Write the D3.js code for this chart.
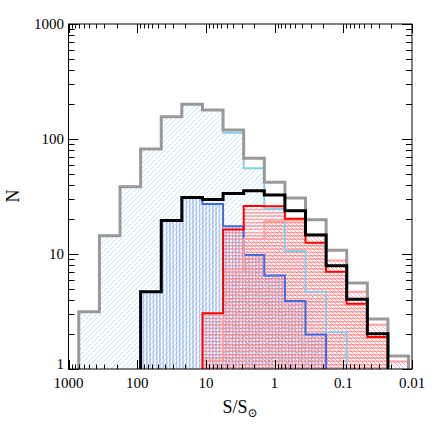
<!DOCTYPE html>
<html><head><meta charset="utf-8">
<script src="https://cdn.jsdelivr.net/npm/d3@7"></script>
<style>body{margin:0;background:#fff}svg{display:block}</style>
</head><body>
<svg id="c" width="436" height="436"></svg>
<script>
// Bin edges in S/S_sun (log-spaced, 0.3 dex)
const binEdges = [707.9, 354.8, 177.8, 89.13, 44.67, 22.39, 11.22, 5.623, 2.818, 1.413, 0.7079, 0.3548, 0.1778, 0.08913, 0.04467, 0.02239, 0.01122];
// Counts per bin (0 = empty)
const totalAll   = [3.15, 14.4, 38.5, 82, 156, 201, 179, 120, 68, 42, 30.7, 19.9, 10.8, 5.6, 2.72, 1.3];
const lightBlue  = [3.15, 14.4, 38.5, 82, 156, 201, 179, 113.5, 55.6, 24.7, 10.6, 4.7, 2.1, 0, 0, 0];
const blueSet    = [0, 0, 0, 4.7, 19.6, 31, 27.2, 17.4, 9.8, 6.5, 3.9, 2.0, 0, 0, 0, 0];
const blackSet   = [0, 0, 0, 4.7, 19.6, 31, 29.8, 33.5, 35.5, 32.6, 23.8, 14.6, 7.9, 4.05, 2.03, 0];
const redSet     = [0, 0, 0, 0, 0, 0, 3.05, 16.3, 26.1, 26.0, 20.3, 12.5, 7.0, 3.7, 1.9, 0];
const salmonSet  = [0, 0, 0, 0, 0, 0, 1.18, 7.0, 13.5, 19.3, 19.6, 14.8, 8.8, 4.7, 2.42, 1.16];
const xTickVals  = [1000, 100, 10, 1, 0.1, 0.01];
const xTickText  = ["1000", "100", "10", "1", "0.1", "0.01"];
const yTickVals  = [1, 10, 100, 1000];
const yTickText  = ["1", "10", "100", "1000"];

const L = 68.5, R = 412, T = 24, B = 369;
const svg = d3.select("#c");
const x = d3.scaleLog().domain([1000, 0.01]).range([L, R]);
const y = d3.scaleLog().domain([1, 1000]).range([B, T]);
const serif = "'Liberation Serif', 'DejaVu Serif', serif";

const defs = svg.append("defs");
defs.append("clipPath").attr("id", "clip").append("rect")
  .attr("x", L).attr("y", T).attr("width", R - L).attr("height", B - T);

function pattern(id, w, h, d, color, sw) {
  const p = defs.append("pattern").attr("id", id).attr("patternUnits", "userSpaceOnUse")
    .attr("width", w).attr("height", h);
  p.append("path").attr("d", d).style("stroke", color).style("stroke-width", sw).style("fill", "none");
}
pattern("hLB", 5, 5, "M-1,1L1,-1M0,5L5,0M4,6L6,4", "#aadcf3", 0.75);
pattern("hBlue", 3.3, 10, "M1.6,0V10", "#7196f0", 0.85);
pattern("hRed", 10, 3.3, "M0,1.6H10", "#ff5a5a", 0.85);
pattern("hSal", 4, 4, "M-1,3L1,5M0,0L4,4M3,-1L5,1", "#ff9a9a", 0.8);

function stepPath(vals, close) {
  let first = vals.findIndex(v => v > 0);
  let last = vals.length - 1 - [...vals].reverse().findIndex(v => v > 0);
  let p = `M${x(binEdges[first])},${B}`;
  for (let i = first; i <= last; i++) {
    p += `V${y(vals[i])}H${x(binEdges[i + 1])}`;
  }
  p += `V${B}`;
  if (close) p += "Z";
  return p;
}

const g = svg.append("g").attr("clip-path", "url(#clip)");
// hatched fills
[[lightBlue, "hLB"], [blueSet, "hBlue"], [salmonSet, "hSal"], [redSet, "hRed"]].forEach(([v, id]) => {
  g.append("path").attr("d", stepPath(v, true)).attr("fill", `url(#${id})`).attr("stroke", "none");
});
// outlines
[[lightBlue, "#87ceeb", 2], [blueSet, "#4169e1", 2], [salmonSet, "#ff9f9f", 2],
 [redSet, "#ff0000", 2], [totalAll, "#999999", 3], [blackSet, "#000000", 3]].forEach(([v, c, w]) => {
  g.append("path").attr("d", stepPath(v, false)).attr("fill", "none")
    .attr("stroke", c).attr("stroke-width", w).attr("stroke-linejoin", "miter");
});

// frame
svg.append("rect").attr("x", L).attr("y", T).attr("width", R - L).attr("height", B - T)
  .attr("fill", "none").attr("stroke", "#000").attr("stroke-width", 1);

const isMajor = v => Math.abs(Math.log10(v) - Math.round(Math.log10(v))) < 1e-6;
const tk = svg.append("g").attr("stroke", "#000").attr("stroke-width", 1);
x.ticks().forEach(v => {
  const px = Math.round(x(v)) + 0.5;
  const len = isMajor(v) ? 9 : 4.5;
  tk.append("line").attr("x1", px).attr("x2", px).attr("y1", B).attr("y2", B - len);
  tk.append("line").attr("x1", px).attr("x2", px).attr("y1", T).attr("y2", T + len);
});
y.ticks().forEach(v => {
  const py = Math.round(y(v)) + 0.5;
  const len = isMajor(v) ? 10 : 6;
  tk.append("line").attr("y1", py).attr("y2", py).attr("x1", L).attr("x2", L + len);
  tk.append("line").attr("y1", py).attr("y2", py).attr("x1", R).attr("x2", R - len);
});

// tick labels
xTickVals.forEach((v, i) => {
  svg.append("text").attr("x", x(v)).attr("y", 388).attr("text-anchor", "middle")
    .attr("font-family", serif).attr("font-size", 15).text(xTickText[i]);
});
yTickVals.forEach((v, i) => {
  svg.append("text").attr("x", 64).attr("y", y(v)).attr("dy", v === 1 ? "0em" : "0.33em")
    .attr("text-anchor", "end")
    .attr("font-family", serif).attr("font-size", 15).text(yTickText[i]);
});

// axis titles
const xt = svg.append("text").attr("x", 240).attr("y", 413).attr("text-anchor", "middle")
  .attr("font-family", serif).attr("font-size", 18);
xt.append("tspan").text("S/S");
xt.append("tspan").attr("font-size", 12).attr("dy", 4).text("⊙");
svg.append("text").attr("transform", "translate(19,196) rotate(-90)").attr("text-anchor", "middle")
  .attr("font-family", serif).attr("font-size", 18).text("N");
</script>
</body></html>
